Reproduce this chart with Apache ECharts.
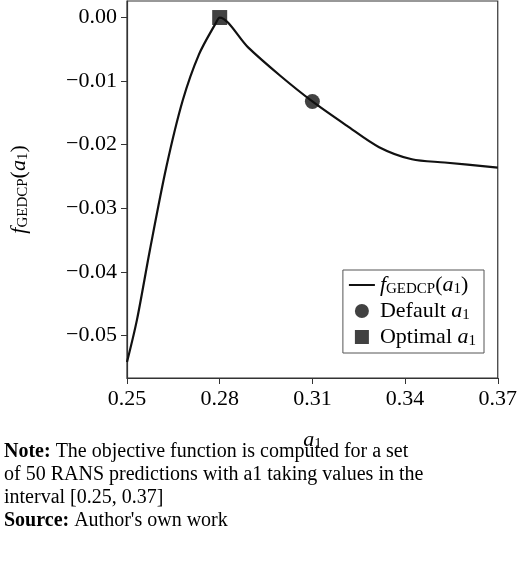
<!DOCTYPE html>
<html>
<head>
<meta charset="utf-8">
<script src="https://cdn.jsdelivr.net/npm/echarts@6/dist/echarts.min.js"></script>
<style>html,body{margin:0;padding:0;background:#fff}#chart{width:520px;height:584px}</style>
</head>
<body>
<div id="chart"></div>
<script>
// data
const a1Values = [0.25, 0.2532, 0.2574, 0.2627, 0.268, 0.2733, 0.2786, 0.28, 0.2892, 0.2997, 0.31, 0.3211, 0.3316, 0.3422, 0.3528, 0.37];
const fValues = [-0.0542, -0.0476, -0.0366, -0.0236, -0.0131, -0.0058, -0.001, 0, -0.0047, -0.0092, -0.0132, -0.017, -0.0204, -0.0223, -0.0228, -0.0236];
const defaultPoint = [0.31, -0.0132];
const optimalPoint = [0.28, 0];
const yTicks = [-0.05, -0.04, -0.03, -0.02, -0.01, 0];

const serif = 'Liberation Serif';
const rich = {
    f: {fontFamily: serif, fontStyle: 'italic', fontSize: 22, color: '#000'},
    sub: {fontFamily: serif, fontSize: 15, color: '#000', verticalAlign: 'bottom', padding: [9, 0, 0, 0]},
    n: {fontFamily: serif, fontSize: 22, color: '#000'},
    i: {fontFamily: serif, fontStyle: 'italic', fontSize: 22, color: '#000'}
};

const chart = echarts.init(document.getElementById('chart'));
chart.setOption({
    animation: false,
    grid: {left: 120, right: 22, top: 1, bottom: 206, show: true, borderColor: '#333', borderWidth: 1.2},
    xAxis: {
        type: 'value', min: 0.25, max: 0.37, interval: 0.03,
        axisLine: {onZero: false, lineStyle: {color: '#333', width: 1.2}},
        axisTick: {length: 6, lineStyle: {color: '#333'}},
        axisLabel: {fontFamily: serif, fontSize: 22, color: '#000', margin: 10,
            formatter: v => v.toFixed(2)},
        splitLine: {show: false},
        name: '{i|a}{sub|1}', nameLocation: 'middle', nameGap: 50,
        nameTextStyle: {rich: rich}
    },
    yAxis: {
        type: 'value', min: -0.0567, max: 0.0026,
        axisLine: {show: true, onZero: false, lineStyle: {color: '#333', width: 1.2}},
        axisTick: {show: true, length: 6, customValues: yTicks, lineStyle: {color: '#333'}},
        axisLabel: {fontFamily: serif, fontSize: 22, color: '#000', margin: 10, customValues: yTicks,
            formatter: v => (Math.abs(v) < 1e-9 ? 0 : v).toFixed(2).replace('-', '\u2212')},
        splitLine: {show: false},
        name: '{f|f}{sub|GEDCP}{n|(}{i|a}{sub|1}{n|)}', nameLocation: 'middle', nameGap: 96,
        nameTextStyle: {rich: rich}
    },
    legend: {
        orient: 'vertical', right: 36, top: 270,
        borderColor: '#555', borderWidth: 1, padding: [4, 8, 4, 6],
        itemGap: 3, itemWidth: 26, itemHeight: 14,
        textStyle: {rich: rich, fontSize: 22},
        data: [
            {name: 'f', icon: 'path://M0,6 L26,6 L26,8 L0,8 Z'},
            {name: 'Default', icon: 'path://M0,0 M26,14 M13,0 A7,7 0 1 1 13,14 A7,7 0 1 1 13,0 Z'},
            {name: 'Optimal', icon: 'path://M0,0 M26,14 M6,0 L20,0 L20,14 L6,14 Z'}
        ],
        formatter: n => n === 'f' ? '{f|f}{sub|GEDCP}{n|(}{i|a}{sub|1}{n|)}' : '{n|' + n + ' }{i|a}{sub|1}'
    },
    graphic: [{
        type: 'text', left: 4, top: 440,
        style: {
            text: '{b|Note:} The objective function is computed for a set\nof 50 RANS predictions with a1 taking values in the\ninterval [0.25, 0.37]\n{b|Source:} Author\'s own work',
            font: '20px "Liberation Serif"', fill: '#000', lineHeight: 23,
            rich: {b: {fontWeight: 'bold', fontFamily: serif, fontSize: 20}}
        }
    }],
    series: [
        {name: 'f', type: 'line', smooth: 0.3, showSymbol: false,
            lineStyle: {color: '#111', width: 2.2}, itemStyle: {color: '#111'},
            data: a1Values.map((x, k) => [x, fValues[k]])},
        {name: 'Default', type: 'scatter', symbol: 'circle', symbolSize: 15,
            itemStyle: {color: '#111'}, data: [defaultPoint], z: 5},
        {name: 'Optimal', type: 'scatter', symbol: 'rect', symbolSize: 15,
            itemStyle: {color: '#111'}, data: [optimalPoint], z: 5}
    ]
});
</script>
</body>
</html>
